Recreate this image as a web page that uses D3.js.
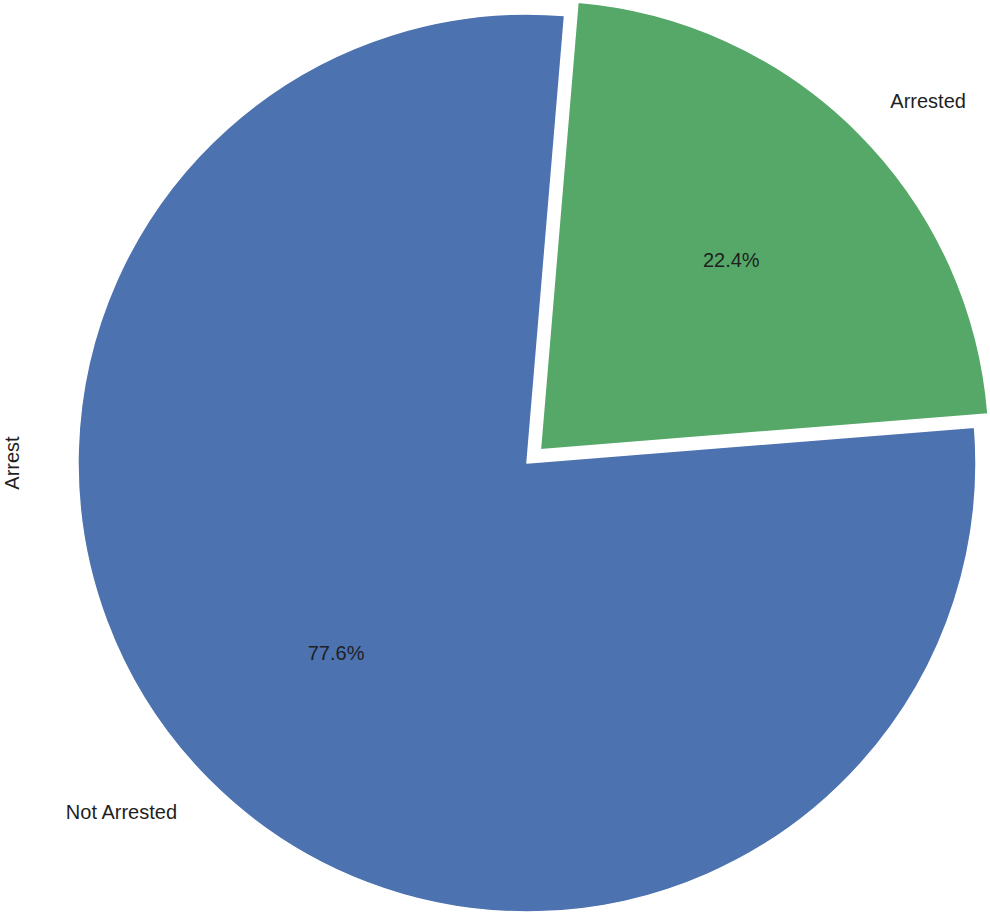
<!DOCTYPE html>
<html>
<head>
<meta charset="utf-8">
<script src="https://cdn.jsdelivr.net/npm/d3@7"></script>
<style>
  body { margin: 0; background: #fff; }
  svg text { font-family: "Liberation Sans", Arial, sans-serif; fill: #1f1f1f; }
</style>
</head>
<body>
<div id="chart"></div>
<script>
var categories = ['Arrested', 'Not Arrested'];
var values = [22.4, 77.6];
var explode = [0.042, 0];
var colors = ['#55a868', '#4c72b0'];
var axisLabel = 'Arrest';

var W = 990, H = 916;
var cx = 527, cy = 463, r = 449;
var fontSize = 20;
var deg = Math.PI / 180;

var svg = d3.select('#chart').append('svg')
    .attr('width', W)
    .attr('height', H);

var pie = d3.pie()
    .sort(null)
    .startAngle(4.8 * deg)
    .endAngle(364.8 * deg);

var arc = d3.arc().innerRadius(0).outerRadius(r);

var data = pie(values).map(function(d, i){
    d.key = categories[i];
    d.color = colors[i];
    d.explode = explode[i];
    return d;
});

function dir(d){
    var a = (d.startAngle + d.endAngle) / 2;
    return [Math.sin(a), -Math.cos(a)];
}

var g = svg.append('g').attr('transform', 'translate(' + cx + ',' + cy + ')');

var slices = g.selectAll('g.slice')
    .data(data)
    .enter()
    .append('g')
    .attr('class', 'slice')
    .attr('transform', function(d){
        var v = dir(d);
        return 'translate(' + (v[0] * d.explode * r) + ',' + (v[1] * d.explode * r) + ')';
    });

slices.append('path')
    .attr('d', arc)
    .attr('fill', function(d){ return d.color; })
    .attr('stroke', '#fff')
    .attr('stroke-width', 1.5)
    .attr('stroke-linejoin', 'round');

// percentage labels at 0.6 r
slices.append('text')
    .attr('x', function(d){ return dir(d)[0] * 0.6 * r; })
    .attr('y', function(d){ return dir(d)[1] * 0.6 * r; })
    .attr('text-anchor', 'middle')
    .attr('dominant-baseline', 'central')
    .style('font-size', fontSize + 'px')
    .text(function(d){ return d.value.toFixed(1) + '%'; });

// category labels at 1.1 r
slices.append('text')
    .attr('x', function(d){ return dir(d)[0] * 1.1 * r; })
    .attr('y', function(d){ return dir(d)[1] * 1.1 * r; })
    .attr('text-anchor', function(d){ return dir(d)[0] > 0 ? 'start' : 'end'; })
    .attr('dominant-baseline', 'central')
    .style('font-size', fontSize + 'px')
    .text(function(d){ return d.key; });

svg.append('text')
    .attr('transform', 'translate(19,' + cy + ') rotate(-90)')
    .attr('text-anchor', 'middle')
    .style('font-size', fontSize + 'px')
    .text(axisLabel);
</script>
</body>
</html>
